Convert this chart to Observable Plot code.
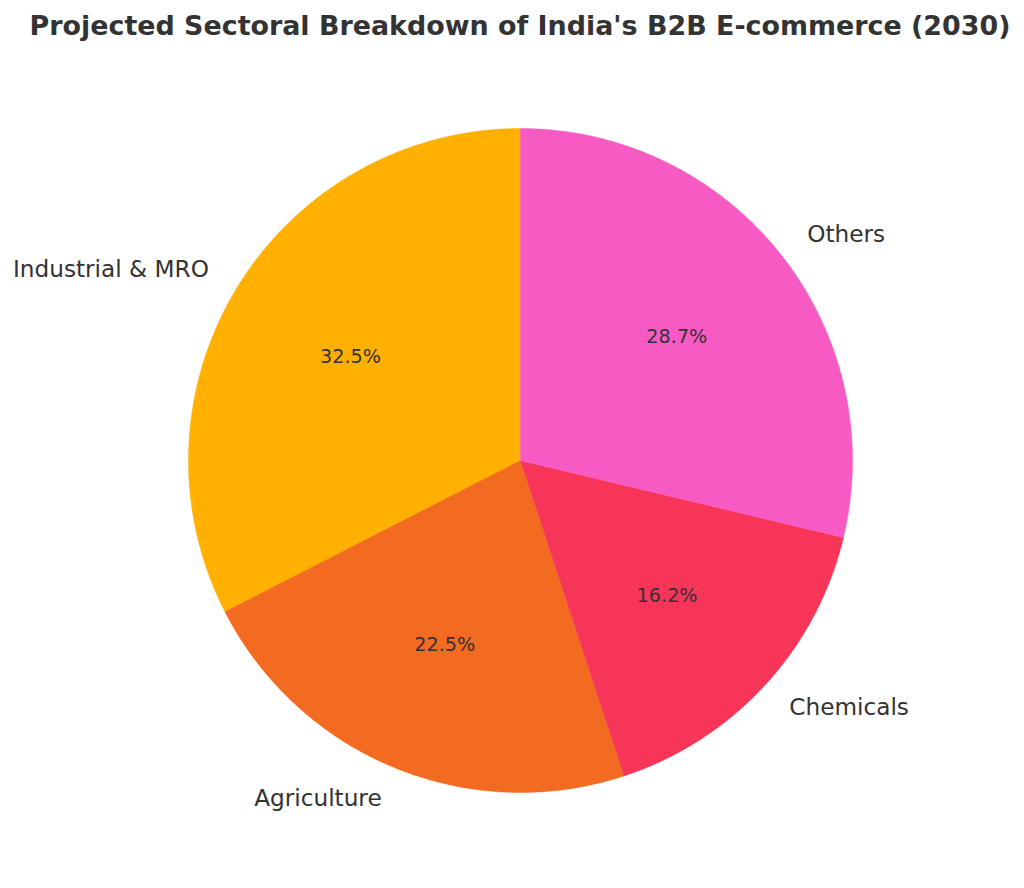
<!DOCTYPE html>
<html>
<head>
<meta charset="utf-8">
<script src="https://cdn.jsdelivr.net/npm/d3@7"></script>
<script src="https://cdn.jsdelivr.net/npm/@observablehq/plot@0.6"></script>
<style>
  html, body { margin: 0; padding: 0; background: #fff; }
  #wrap { position: relative; width: 1024px; height: 888px; font-family: "DejaVu Sans", sans-serif; }
  #title { position: absolute; left: 0; top: 10px; width: 1024px; padding-left: 16px; box-sizing: border-box; text-align: center;
           font-size: 26.9px; font-weight: bold; color: #333; line-height: normal; white-space: nowrap; }
  #chart { position: absolute; left: 0; top: 55px; }
</style>
</head>
<body>
<div id="wrap">
  <div id="title">Projected Sectoral Breakdown of India's B2B E-commerce (2030)</div>
  <div id="chart"></div>
</div>
<script>
const sectors = ["Industrial & MRO", "Agriculture", "Chemicals", "Others"];
const shares = [32.5, 22.5, 16.2, 28.7];
const colors = ["#FFB000", "#F26B21", "#F73558", "#F85AC4"];

const total = d3.sum(shares);
let cum = 0;
const slices = sectors.map((name, i) => {
  const a0 = 90 + cum / total * 360;
  cum += shares[i];
  const a1 = 90 + cum / total * 360;
  return {name, share: shares[i], a0, a1, mid: (a0 + a1) / 2};
});

const rad = d => d * Math.PI / 180;
const polyPts = [];
for (const s of slices) {
  polyPts.push({name: s.name, x: 0, y: 0});
  const n = Math.max(2, Math.ceil((s.a1 - s.a0) / 0.25));
  for (let k = 0; k <= n; k++) {
    const a = rad(s.a0 + (s.a1 - s.a0) * k / n);
    polyPts.push({name: s.name, x: Math.cos(a), y: Math.sin(a)});
  }
  polyPts.push({name: s.name, x: 0, y: 0});
}

const labels = slices.map(s => ({
  name: s.name,
  x: 1.1 * Math.cos(rad(s.mid)),
  y: 1.1 * Math.sin(rad(s.mid)),
  anchor: Math.cos(rad(s.mid)) >= 0 ? "start" : "end"
}));
const pcts = slices.map(s => ({
  text: s.share.toFixed(1) + "%",
  x: 0.6 * Math.cos(rad(s.mid)),
  y: 0.6 * Math.sin(rad(s.mid))
}));

const chart = Plot.plot({
  width: 1024,
  height: 833,
  marginLeft: 188,
  marginRight: 172,
  marginTop: 73,
  marginBottom: 96,
  x: {domain: [-1, 1], axis: null},
  y: {domain: [-1, 1], axis: null},
  color: {domain: sectors, range: colors},
  style: {fontFamily: "DejaVu Sans, sans-serif", background: "#fff"},
  marks: [
    Plot.line(polyPts, {x: "x", y: "y", z: "name", fill: "name", stroke: "name", strokeWidth: 0.5, curve: "linear"}),
    Plot.text(labels.filter(d => d.anchor === "start"), {x: "x", y: "y", text: "name", textAnchor: "start", fontSize: 23.2, fill: "#333"}),
    Plot.text(labels.filter(d => d.anchor === "end"), {x: "x", y: "y", text: "name", textAnchor: "end", fontSize: 23.2, fill: "#333"}),
    Plot.text(pcts, {x: "x", y: "y", text: "text", fontSize: 19.2, fill: "#333"})
  ]
});
document.getElementById("chart").appendChild(chart);
</script>
</body>
</html>
